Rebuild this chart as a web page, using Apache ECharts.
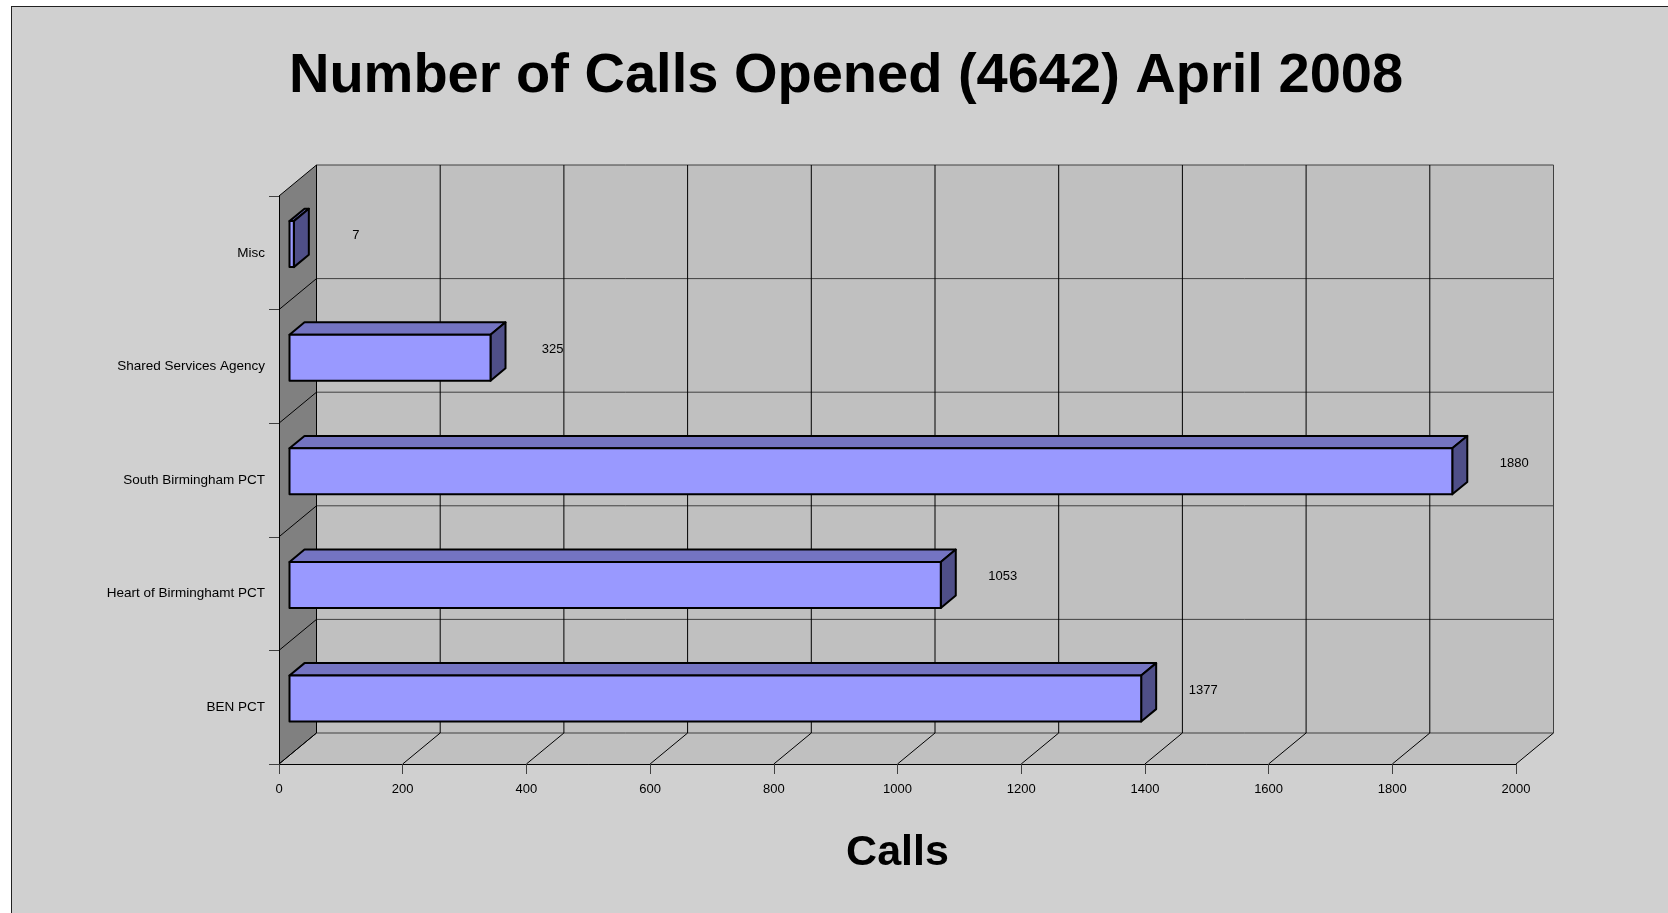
<!DOCTYPE html>
<html>
<head>
<meta charset="utf-8">
<title>Number of Calls Opened (4642) April 2008</title>
<script src="https://cdn.jsdelivr.net/npm/echarts@6/dist/echarts.min.js"></script>
<style>
  html, body { margin: 0; padding: 0; background: #fff; overflow: hidden; }
  #frame { position: absolute; left: 11px; top: 6px; width: 1700px; height: 960px; background: #d0d0d0; border-left: 1px solid #222; border-top: 1px solid #222; }
  #chart { position: absolute; left: 0; top: 0; width: 1668px; height: 913px; }
</style>
</head>
<body>
<div id="frame"></div>
<div id="chart"></div>
<script>
// categories from top to bottom, and the calls opened for each
const categories = ['Misc', 'Shared Services Agency', 'South Birmingham PCT', 'Heart of Birminghamt PCT', 'BEN PCT'];
const calls = [7, 325, 1880, 1053, 1377];
const callTicks = [0, 200, 400, 600, 800, 1000, 1200, 1400, 1600, 1800, 2000];

const xMin = callTicks[0];
const xMax = callTicks[callTicks.length - 1];
const xStep = callTicks[1] - callTicks[0];

// oblique offset of the back wall, in pixels
const DEPTH = [37.5, -31];
// bars sit between these fractions of the depth
const BAR_FRONT = 0.28;
const BAR_BACK = 0.68;
const BAR_THICK = 0.405;
const FONT = '"Liberation Sans", Arial, sans-serif';

function line(a, b, color) {
  return {
    type: 'line',
    shape: { x1: a[0], y1: a[1], x2: b[0], y2: b[1] },
    style: { stroke: color, lineWidth: 1 }
  };
}

function renderWalls(params, api) {
  const [dx, dy] = DEPTH;
  const band = api.size([0, 1])[1];
  const first = api.coord([xMin, 0]);
  const last = api.coord([xMax, categories.length - 1]);
  const x0 = first[0], x1 = last[0];
  const top = first[1] - band / 2;
  const bottom = last[1] + band / 2;
  const children = [
    { type: 'polygon', shape: { points: [[x0, top], [x0 + dx, top + dy], [x0 + dx, bottom + dy], [x0, bottom]] }, style: { fill: '#808080' } },
    { type: 'polygon', shape: { points: [[x0, bottom], [x1, bottom], [x1 + dx, bottom + dy], [x0 + dx, bottom + dy]] }, style: { fill: '#c0c0c0' } },
    { type: 'rect', shape: { x: x0 + dx, y: top + dy, width: x1 - x0, height: bottom - top }, style: { fill: '#c0c0c0' } }
  ];
  for (let i = 0; i <= categories.length; i++) {
    const y = top + i * band;
    children.push(line([x0 + dx, y + dy], [x1 + dx, y + dy], '#404040'));
    children.push(line([x0, y], [x0 + dx, y + dy], '#000'));
  }
  for (let v = xMin; v <= xMax; v += xStep) {
    const x = api.coord([v, 0])[0];
    children.push(line([x + dx, top + dy], [x + dx, bottom + dy], v === xMax ? '#404040' : '#000'));
    children.push(line([x, bottom], [x + dx, bottom + dy], '#000'));
  }
  return { type: 'group', children };
}

function renderBar(params, api) {
  const [dx, dy] = DEPTH;
  const v = api.value(0);
  const i = api.value(1);
  const band = api.size([0, 1])[1];
  const start = api.coord([xMin, i]);
  const end = api.coord([v, i]);
  const ox = dx * BAR_FRONT, oy = dy * BAR_FRONT;
  const ddx = dx * (BAR_BACK - BAR_FRONT), ddy = dy * (BAR_BACK - BAR_FRONT);
  const h = band * BAR_THICK;
  const xa = start[0] + ox, xb = end[0] + ox;
  const yt = start[1] + oy - h / 2, yb = yt + h;
  const edge = { stroke: '#000', lineWidth: 2, lineJoin: 'round' };
  return {
    type: 'group',
    children: [
      { type: 'polygon', shape: { points: [[xa, yt], [xb, yt], [xb + ddx, yt + ddy], [xa + ddx, yt + ddy]] }, style: Object.assign({ fill: '#7474c2' }, edge) },
      { type: 'polygon', shape: { points: [[xb, yt], [xb + ddx, yt + ddy], [xb + ddx, yb + ddy], [xb, yb]] }, style: Object.assign({ fill: '#4f4f88' }, edge) },
      { type: 'rect', shape: { x: xa, y: yt, width: xb - xa, height: h }, style: Object.assign({ fill: '#9999ff' }, edge) },
      {
        type: 'text', x: xb + 62, y: start[1] - 17,
        style: { text: String(v), fill: '#000', font: '13px ' + FONT, align: 'center', verticalAlign: 'middle', textAlign: 'center', textVerticalAlign: 'middle' }
      }
    ]
  };
}

const chart = echarts.init(document.getElementById('chart'));
chart.setOption({
  animation: false,
  backgroundColor: 'transparent',
  textStyle: { fontFamily: FONT },
  graphic: [
    {
      type: 'text', x: 846, y: 77,
      style: {
        text: 'Number of Calls Opened (4642) April 2008',
        fill: '#000', font: 'bold 56px ' + FONT,
        align: 'center', verticalAlign: 'middle', textAlign: 'center', textVerticalAlign: 'middle'
      }
    }
  ],
  grid: { left: 279, top: 196, width: 1237, height: 568, outerBoundsMode: 'none' },
  xAxis: {
    type: 'value',
    min: xMin,
    max: xMax,
    interval: xStep,
    name: 'Calls',
    nameLocation: 'middle',
    nameGap: 68,
    nameTextStyle: { fontSize: 43, fontWeight: 'bold', color: '#000', fontFamily: FONT },
    axisLine: { show: true, lineStyle: { color: '#000', width: 1 } },
    axisTick: { show: true, length: 10, lineStyle: { color: '#404040' } },
    axisLabel: { show: true, margin: 19, fontSize: 13, color: '#000', fontFamily: FONT, formatter: (v) => String(v) },
    splitLine: { show: false }
  },
  yAxis: {
    type: 'category',
    data: categories,
    inverse: true,
    axisLine: { show: true, lineStyle: { color: '#000', width: 1 } },
    axisTick: { show: true, length: 10, lineStyle: { color: '#404040' } },
    axisLabel: { show: true, margin: 14, fontSize: 13.5, color: '#000', fontFamily: FONT },
    splitLine: { show: false }
  },
  series: [
    { type: 'custom', z: -1, silent: true, data: [[0, 0]], renderItem: renderWalls },
    { type: 'custom', data: calls.map((v, i) => [v, i]), encode: { x: 0, y: 1 }, renderItem: renderBar }
  ]
});
</script>
</body>
</html>
